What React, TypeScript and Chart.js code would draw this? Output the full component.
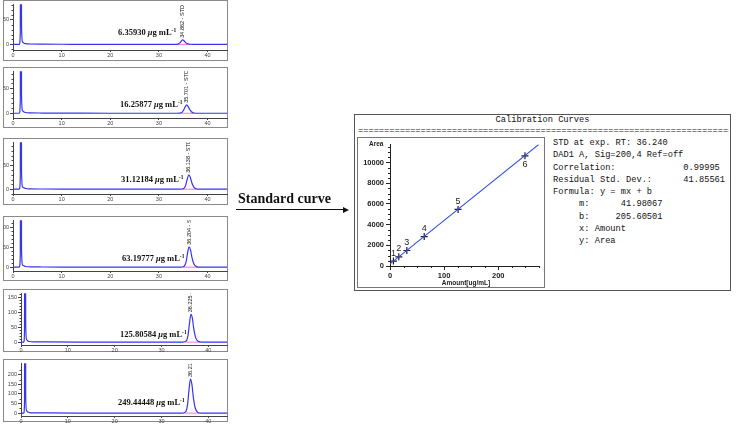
import React, { useEffect, useRef } from "react";
import { Chart, registerables } from "chart.js";

Chart.register(...registerables);

// ---------- data ----------
const concentrationLabels = ["6.35930", "16.25877", "31.12184", "63.19777", "125.80584", "249.44448"];
const concentrations = [6.3593, 16.25877, 31.12184, 63.19777, 125.80584, 249.44448];
const retentionTimes = [34.862, 35.701, 36.138, 36.204, 36.225, 36.218];
const peakTops = [9.5, 17, 30, 51, 93, 178];
const integStart = [33.6, 34.4, 34.8, 35.0, 35.1, 35.0];
const integEnd = [36.4, 37.3, 37.8, 38.0, 38.2, 38.1];

const timeP1 = [0, 1.3, 1.5, 1.62, 1.75, 1.95, 2.2, 2.6, 3.5, 6, 12, 20, 28, 33.2, 33.9, 34.3, 34.6, 34.86, 35.15, 35.45, 35.8, 36.3, 37, 44];
const signalP1 = [0, 0, 25, 900, 40, 5, 3, 1.5, 0.8, 0.4, 0.2, 0, 0, 0, 0.5, 3, 6.5, 9.5, 7.5, 4, 1.5, 0.3, 0, 0];
const timeP2 = [0, 1.3, 1.5, 1.62, 1.75, 1.95, 2.2, 2.6, 3.5, 6, 12, 20, 28, 33.8, 34.6, 35.0, 35.35, 35.7, 36.0, 36.3, 36.7, 37.2, 38, 44];
const signalP2 = [0, 0, 25, 900, 40, 5, 3, 1.5, 0.8, 0.4, 0.2, 0, 0, 0, 1, 5, 12, 17, 14, 8, 3, 0.5, 0, 0];
const timeP3 = [0, 1.3, 1.5, 1.62, 1.75, 1.95, 2.2, 2.6, 3.5, 6, 12, 20, 28, 34.4, 35.1, 35.5, 35.8, 36.14, 36.45, 36.75, 37.15, 37.6, 38.4, 44];
const signalP3 = [0, 0, 25, 900, 40, 5, 3, 1.5, 0.8, 0.4, 0.2, 0, 0, 0, 1.5, 8, 20, 30, 25, 14, 5, 1, 0, 0];
const timeP4 = [0, 1.3, 1.5, 1.62, 1.75, 1.95, 2.2, 2.6, 3.5, 6, 12, 20, 28, 34.5, 35.2, 35.6, 35.9, 36.2, 36.5, 36.8, 37.2, 37.7, 38.5, 44];
const signalP4 = [0, 0, 30, 1000, 45, 6, 3.5, 1.8, 1, 0.5, 0.2, 0, 0, 0, 2.5, 14, 36, 51, 43, 24, 8, 1.5, 0, 0];
const timeP5 = [0, 0.6, 0.75, 0.87, 1.0, 1.2, 1.45, 1.85, 2.8, 6, 12, 20, 28, 34.6, 35.3, 35.7, 36.0, 36.3, 36.6, 36.9, 37.3, 37.8, 38.6, 44];
const signalP5 = [0, 0, 40, 1500, 60, 8, 4, 2, 1, 0.5, 0.2, 0, 0, 0, 4, 25, 65, 93, 80, 45, 15, 3, 0, 0];
const timeP6 = [0, 0.6, 0.75, 0.87, 1.0, 1.2, 1.45, 1.85, 2.8, 6, 12, 20, 28, 34.5, 35.2, 35.6, 35.9, 36.2, 36.5, 36.8, 37.2, 37.7, 38.5, 44];
const signalP6 = [0, 0, 60, 3000, 90, 12, 6, 3, 1.5, 0.8, 0.3, 0, 0, 0, 8, 50, 125, 178, 150, 85, 28, 5, 0, 0];

const chromXTicks = [0, 10, 20, 30, 40];
const yTicksP1 = [0, 50];
const yTicksP2 = [0, 50];
const yTicksP3 = [0, 50];
const yTicksP4 = [0, 50, 100];
const yTicksP5 = [0, 50, 100, 150];
const yTicksP6 = [0, 50, 100, 150, 200];

const calibAreas = [480, 890, 1500, 2850, 5470, 10650];
const calibPointLabels = ["1", "2", "3", "4", "5", "6"];
const fitAmount = [0, 275];
const fitArea = [205.6, 11750];
const calibXTicks = [0, 100, 200];
const calibYTicks = [0, 2000, 4000, 6000, 8000, 10000];

const statsLines = [
  "STD at exp. RT: 36.240",
  "DAD1 A, Sig=200,4 Ref=off",
  "Correlation:             0.99995",
  "Residual Std. Dev.:      41.85561",
  "Formula: y = mx + b",
  "     m:      41.98067",
  "     b:     205.60501",
  "     x: Amount",
  "     y: Area",
];

// ---------- layout ----------
const panels = [
  { time: timeP1, signal: signalP1, ticks: yTicksP1, top: 0, h: 61, plotTop: 1, axisY: 50, yAxisX: 13, yMin: -11.5, yMax: 82, minor: 10, labelX: 118, labelY: 32 },
  { time: timeP2, signal: signalP2, ticks: yTicksP2, top: 67, h: 61, plotTop: 69, axisY: 118, yAxisX: 13, yMin: -9.6, yMax: 84.6, minor: 10, labelX: 120, labelY: 104 },
  { time: timeP3, signal: signalP3, ticks: yTicksP3, top: 138, h: 67, plotTop: 140, axisY: 194, yAxisX: 13, yMin: -10, yMax: 98, minor: 10, labelX: 121, labelY: 179 },
  { time: timeP4, signal: signalP4, ticks: yTicksP4, top: 216, h: 65, plotTop: 218, axisY: 271, yAxisX: 13, yMin: -9.5, yMax: 117, minor: 10, labelX: 122, labelY: 258 },
  { time: timeP5, signal: signalP5, ticks: yTicksP5, top: 289, h: 63, plotTop: 291, axisY: 345, yAxisX: 21, yMin: -9.6, yMax: 163, minor: 10, labelX: 120, labelY: 334 },
  { time: timeP6, signal: signalP6, ticks: yTicksP6, top: 359, h: 63, plotTop: 361, axisY: 416, yAxisX: 21, yMin: -15, yMax: 260, minor: 25, labelX: 118, labelY: 402 },
];

const SANS = '"Liberation Sans", Arial, sans-serif';
const MONO = '"Liberation Mono", "DejaVu Sans Mono", monospace';
const SERIF = '"Liberation Serif", "Times New Roman", serif';

const plainLabel = (v: any) => String(v);

// ---------- plugins ----------
const minorTicksPlugin = {
  id: "minorTicks",
  afterDraw(chart: any, _args: any, opts: any) {
    const { ctx } = chart;
    const ys = chart.scales.y;
    const xs = chart.scales.x;
    ctx.save();
    ctx.strokeStyle = opts.color || "#333";
    ctx.lineWidth = 1;
    (opts.y || []).forEach((v: number) => {
      const py = Math.round(ys.getPixelForValue(v)) + 0.5;
      ctx.beginPath();
      ctx.moveTo(ys.right, py);
      ctx.lineTo(ys.right - opts.len, py);
      ctx.stroke();
    });
    (opts.x || []).forEach((v: number) => {
      const px = Math.round(xs.getPixelForValue(v)) + 0.5;
      ctx.beginPath();
      ctx.moveTo(px, xs.top);
      ctx.lineTo(px, xs.top + opts.len);
      ctx.stroke();
    });
    ctx.restore();
  },
};

const peakLabelPlugin = {
  id: "peakLabel",
  afterDatasetsDraw(chart: any, _args: any, opts: any) {
    const { ctx, chartArea } = chart;
    const x = chart.scales.x.getPixelForValue(opts.rt);
    const y = chart.scales.y.getPixelForValue(opts.top) - 2;
    ctx.save();
    ctx.beginPath();
    ctx.rect(chartArea.left, chartArea.top, chartArea.right - chartArea.left, chartArea.bottom - chartArea.top);
    ctx.clip();
    ctx.translate(x, y);
    ctx.rotate(-Math.PI / 2);
    ctx.font = `5.5px ${SANS}`;
    ctx.fillStyle = "#111";
    ctx.textAlign = "left";
    ctx.textBaseline = "middle";
    ctx.fillText(opts.text, 0, 0);
    ctx.restore();
  },
};

const pointLabelPlugin = {
  id: "pointLabels",
  afterDatasetsDraw(chart: any, _args: any, opts: any) {
    const { ctx } = chart;
    const meta = chart.getDatasetMeta(1);
    ctx.save();
    ctx.font = `9px ${SANS}`;
    ctx.fillStyle = "#222";
    ctx.textAlign = "center";
    ctx.textBaseline = "middle";
    const n = meta.data.length;
    meta.data.forEach((pt: any, i: number) => {
      ctx.fillText(opts.labels[i], pt.x, pt.y + (i === n - 1 ? 9 : -8));
    });
    ctx.restore();
  },
};

function range(min: number, max: number, step: number, skip: number) {
  const out: number[] = [];
  for (let v = Math.ceil(min / step) * step; v <= max; v += step) {
    if (Math.abs(v % skip) > 1e-9) out.push(v);
  }
  return out;
}

function chromConfig(p: any, i: number) {
  const canvasH = p.h + 3;
  return {
    type: "line",
    data: {
      datasets: [
        {
          data: p.time.map((t: number, k: number) => ({ x: t, y: p.signal[k] })),
          borderColor: "#3535f0",
          borderWidth: 1.2,
          pointRadius: 0,
          cubicInterpolationMode: "monotone",
          fill: false,
        },
        {
          data: [
            { x: integStart[i], y: 0 },
            { x: integEnd[i], y: 0 },
          ],
          borderColor: "#ff70d0",
          borderWidth: 1,
          pointRadius: 0,
          fill: false,
        },
      ],
    },
    options: {
      animation: false,
      responsive: false,
      events: [],
      layout: { padding: { top: p.plotTop - p.top, right: 1, left: 0, bottom: 0 } },
      plugins: {
        legend: { display: false },
        tooltip: { enabled: false },
        minorTicks: { y: range(p.yMin, p.yMax, p.minor, 50), len: 1.5, color: "#444" },
        peakLabel: { rt: retentionTimes[i], top: peakTops[i], text: `${retentionTimes[i].toFixed(3)} - STD` },
      },
      scales: {
        x: {
          type: "linear",
          min: 0,
          max: 44,
          afterBuildTicks: (s: any) => {
            s.ticks = chromXTicks.map((v) => ({ value: v }));
          },
          afterFit: (s: any) => {
            s.height = p.top + canvasH - p.axisY;
          },
          ticks: { font: { size: 5.5, family: SANS }, color: "#444", padding: 0, maxRotation: 0, autoSkip: false, callback: plainLabel },
          grid: { drawOnChartArea: false, tickLength: 2, color: "#444" },
          border: { color: "#444", width: 1 },
        },
        y: {
          type: "linear",
          min: p.yMin,
          max: p.yMax,
          afterBuildTicks: (s: any) => {
            s.ticks = p.ticks.map((v: number) => ({ value: v }));
          },
          afterFit: (s: any) => {
            s.width = p.yAxisX - 3;
          },
          ticks: { font: { size: 5.5, family: SANS }, color: "#444", padding: 1, autoSkip: false, callback: plainLabel },
          grid: { drawOnChartArea: false, tickLength: 3, color: "#444" },
          border: { color: "#444", width: 1 },
        },
      },
    },
    plugins: [minorTicksPlugin, peakLabelPlugin],
  };
}

function calibConfig() {
  return {
    type: "scatter",
    data: {
      datasets: [
        {
          data: fitAmount.map((x, k) => ({ x, y: fitArea[k] })),
          showLine: true,
          borderColor: "#3450d8",
          borderWidth: 1.1,
          pointRadius: 0,
          fill: false,
        },
        {
          data: concentrations.map((x, k) => ({ x, y: calibAreas[k] })),
          showLine: false,
          pointStyle: "cross",
          pointRadius: 3.5,
          borderColor: "#1a1a33",
          borderWidth: 1.2,
          backgroundColor: "transparent",
        },
      ],
    },
    options: {
      animation: false,
      responsive: false,
      events: [],
      layout: { padding: { top: 2, right: 1, left: 0, bottom: 0 } },
      plugins: {
        legend: { display: false },
        tooltip: { enabled: false },
        minorTicks: { y: range(0, 11750, 500, 2000), x: range(0, 275, 25, 100), len: 2, color: "#222" },
        pointLabels: { labels: calibPointLabels },
      },
      scales: {
        x: {
          type: "linear",
          min: 0,
          max: 275,
          afterBuildTicks: (s: any) => {
            s.ticks = calibXTicks.map((v) => ({ value: v }));
          },
          afterFit: (s: any) => {
            s.height = 21;
          },
          ticks: { font: { size: 7.5, family: SANS, weight: "bold" }, color: "#222", padding: 1, maxRotation: 0, autoSkip: false, callback: plainLabel },
          grid: { drawOnChartArea: false, tickLength: 4, color: "#222" },
          border: { color: "#222", width: 1 },
        },
        y: {
          type: "linear",
          min: 0,
          max: 11750,
          afterBuildTicks: (s: any) => {
            s.ticks = calibYTicks.map((v) => ({ value: v }));
          },
          afterFit: (s: any) => {
            s.width = 32;
          },
          ticks: { font: { size: 7.5, family: SANS, weight: "bold" }, color: "#222", padding: 2, autoSkip: false, callback: plainLabel },
          grid: { drawOnChartArea: false, tickLength: 4, color: "#222" },
          border: { color: "#222", width: 1 },
        },
      },
    },
    plugins: [minorTicksPlugin, pointLabelPlugin],
  };
}

function ChartCanvas({ config, left, top, width, height }: any) {
  const ref = useRef<HTMLCanvasElement>(null);
  useEffect(() => {
    const chart = new Chart(ref.current as HTMLCanvasElement, config);
    return () => chart.destroy();
  }, []);
  return (
    <canvas
      ref={ref}
      width={width}
      height={height}
      style={{ position: "absolute", left, top, width, height, display: "block" }}
    />
  );
}

export default function App() {
  return (
    <div
      style={{
        position: "absolute",
        left: 0,
        top: 0,
        width: 738,
        height: 425,
        background: "#fff",
        overflow: "hidden",
      }}
    >
      {panels.map((p, i) => (
        <React.Fragment key={i}>
          <div
            style={{
              position: "absolute",
              left: 3,
              top: p.top,
              width: 225,
              height: p.h,
              border: "1px solid #8a8a8a",
              boxSizing: "border-box",
            }}
          />
          <ChartCanvas config={chromConfig(p, i)} left={3} top={p.top} width={225} height={p.h + 3} />
          <div
            style={{
              position: "absolute",
              left: p.labelX,
              top: p.labelY - 6,
              font: `bold 8.5px ${SERIF}`,
              lineHeight: "12px",
              whiteSpace: "nowrap",
              color: "#111",
            }}
          >
            {concentrationLabels[i]} <i>μ</i>g mL
            <span style={{ fontSize: "5.5px", position: "relative", top: -3 }}>-1</span>
          </div>
        </React.Fragment>
      ))}

      {/* Standard curve arrow */}
      <div
        style={{
          position: "absolute",
          left: 238,
          top: 190,
          font: `bold 14px ${SERIF}`,
          lineHeight: "18px",
          whiteSpace: "nowrap",
          color: "#111",
        }}
      >
        Standard curve
      </div>
      <div style={{ position: "absolute", left: 236, top: 209, width: 108, height: 1, background: "#111" }} />
      <div
        style={{
          position: "absolute",
          left: 343,
          top: 206.5,
          width: 0,
          height: 0,
          borderLeft: "6px solid #111",
          borderTop: "3px solid transparent",
          borderBottom: "3px solid transparent",
        }}
      />

      {/* Calibration box */}
      <div
        style={{
          position: "absolute",
          left: 354,
          top: 114,
          width: 377,
          height: 177,
          border: "1px solid #555",
          boxSizing: "border-box",
        }}
      />
      <div
        style={{
          position: "absolute",
          left: 354,
          top: 115,
          width: 377,
          textAlign: "center",
          font: `8.7px ${MONO}`,
          lineHeight: "10px",
          color: "#111",
          whiteSpace: "pre",
        }}
      >
        Calibration Curves
      </div>
      <div
        style={{
          position: "absolute",
          left: 358,
          top: 126,
          width: 371,
          overflow: "hidden",
          font: `8.7px ${MONO}`,
          lineHeight: "10px",
          color: "#111",
          whiteSpace: "pre",
        }}
      >
        {"=".repeat(90)}
      </div>
      <div
        style={{
          position: "absolute",
          left: 357,
          top: 137,
          width: 188,
          height: 151,
          border: "1px solid #777",
          boxSizing: "border-box",
        }}
      />
      <ChartCanvas config={calibConfig()} left={358} top={138} width={186} height={149} />
      <div
        style={{
          position: "absolute",
          left: 369,
          top: 140,
          font: `bold 6.5px ${SANS}`,
          lineHeight: "8px",
          color: "#222",
        }}
      >
        Area
      </div>
      <div
        style={{
          position: "absolute",
          left: 416,
          top: 279,
          width: 100,
          textAlign: "center",
          font: `bold 6.5px ${SANS}`,
          lineHeight: "8px",
          color: "#222",
        }}
      >
        Amount[ug/mL]
      </div>
      <div
        style={{
          position: "absolute",
          left: 553,
          top: 137,
          font: `8.7px ${MONO}`,
          lineHeight: "12.25px",
          color: "#111",
          whiteSpace: "pre",
        }}
      >
        {statsLines.join("\n")}
      </div>
    </div>
  );
}
